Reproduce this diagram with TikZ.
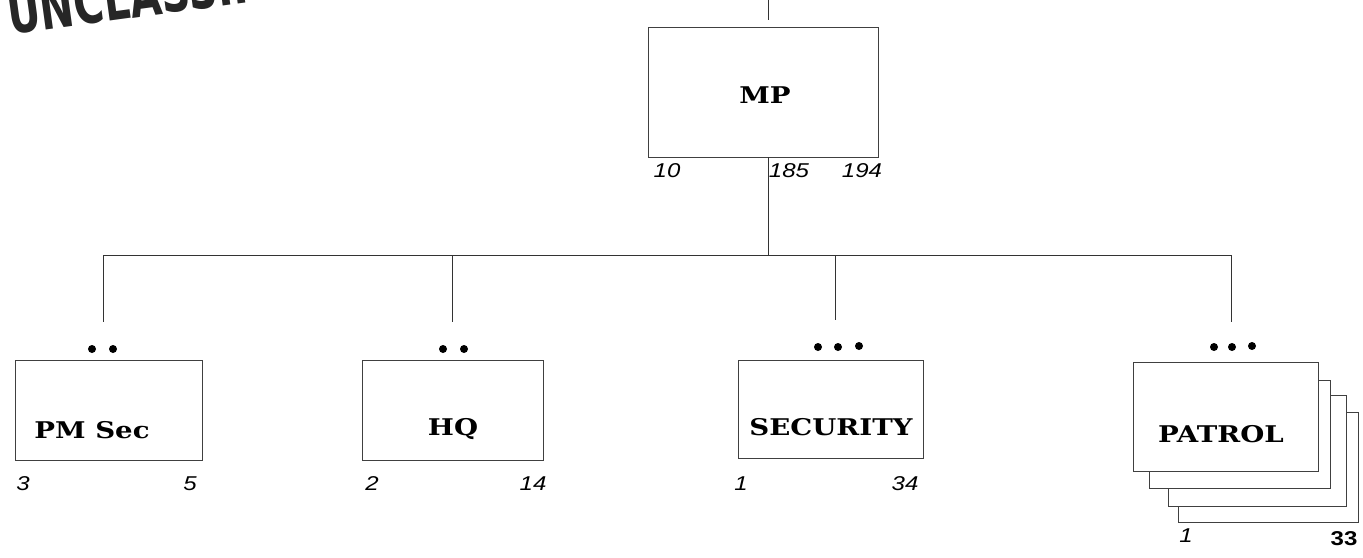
\documentclass[tikz,border=0pt]{standalone}
\usepackage{fontspec}
\newfontfamily\labfont[FakeStretch=1.2]{DejaVu Serif}
\newfontfamily\numfont[FakeStretch=1.2]{Liberation Sans}
\newfontfamily\stampfont{DejaVu Sans}
\begin{document}
\begin{tikzpicture}[x=1pt,y=-1pt,
  ln/.style={draw=black!80, line width=1pt},
  unitbox/.style={draw=black!75, line width=1pt, fill=white, inner sep=0pt, anchor=north west},
  lab/.style={font=\labfont\bfseries\fontsize{23}{23}\selectfont, anchor=base, inner sep=0pt},
  num/.style={font=\numfont\itshape\fontsize{20}{20}\selectfont, anchor=base, inner sep=0pt},
  numup/.style={font=\numfont\bfseries\fontsize{20}{20}\selectfont, anchor=base, inner sep=0pt},
  dot/.style={circle, fill=black, inner sep=0pt, minimum size=8pt}]
\useasboundingbox (0,0) rectangle (1363,557);
\clip (0,0) rectangle (1363,557);

% stamp (cut off at the top edge, as in the scan)
\node[font=\stampfont\bfseries\fontsize{60}{60}\selectfont, text=black!85, rotate=7.8, xscale=0.68, anchor=base west, inner sep=0pt] (stamp) at (10,35) {UNCLASSIFIED};

% MP box
\node[unitbox, minimum width=230pt, minimum height=130pt] (mp) at (648,27) {};
\node[lab] (mplab) at (765,103) {MP};
\node[num] (mpa) at (667,177) {10};
\node[num] (mpb) at (789,177) {185};
\node[num] (mpc) at (862,177) {194};

% top connector
\coordinate (topa) at (768,0);
\coordinate (topb) at (768,20);
\draw[ln] (topa) -- (topb);

% bus
\coordinate (mpdown) at (768,157);
\coordinate (busmp) at (768,255);
\coordinate (b1) at (103,255);
\coordinate (b2) at (452,255);
\coordinate (b3) at (835,255);
\coordinate (b4) at (1231,255);
\coordinate (d1) at (103,322);
\coordinate (d2) at (452,322);
\coordinate (d3) at (835,320);
\coordinate (d4) at (1231,322);
\draw[ln] (mpdown) -- (busmp);
\draw[ln] (b1) -- (b4);
\draw[ln] (b1) -- (d1);
\draw[ln] (b2) -- (d2);
\draw[ln] (b3) -- (d3);
\draw[ln] (b4) -- (d4);

% PM Sec
\node[unitbox, minimum width=187pt, minimum height=100pt] (pm) at (15,360) {};
\node[lab] (pmlab) at (92,438) {PM Sec};
\node[dot] (pmd1) at (92,349) {};
\node[dot] (pmd2) at (113,349) {};
\node[num] (pma) at (23,490) {3};
\node[num] (pmb) at (190,490) {5};

% HQ
\node[unitbox, minimum width=181pt, minimum height=100pt] (hq) at (362,360) {};
\node[lab] (hqlab) at (453,435) {HQ};
\node[dot] (hqd1) at (443,349) {};
\node[dot] (hqd2) at (464,349) {};
\node[num] (hqa) at (372,490) {2};
\node[num] (hqb) at (533,490) {14};

% SECURITY
\node[unitbox, minimum width=185pt, minimum height=98pt] (sec) at (738,360) {};
\node[lab] (seclab) at (831,435) {SECURITY};
\node[dot] (secd1) at (818,347) {};
\node[dot] (secd2) at (838,347) {};
\node[dot] (secd3) at (859,346) {};
\node[num] (seca) at (741,490) {1};
\node[num] (secb) at (905,490) {34};

% PATROL (stacked)
\node[unitbox, minimum width=180pt, minimum height=110pt] (pat4) at (1178,412) {};
\node[unitbox, minimum width=178pt, minimum height=111pt] (pat3) at (1168,395) {};
\node[unitbox, minimum width=181pt, minimum height=108pt] (pat2) at (1149,380) {};
\node[unitbox, minimum width=185pt, minimum height=109pt] (pat) at (1133,362) {};
\node[lab] (patlab) at (1221,442) {PATROL};
\node[dot] (patd1) at (1214,347) {};
\node[dot] (patd2) at (1232,347) {};
\node[dot] (patd3) at (1252,346) {};
\node[num] (pata) at (1186,542) {1};
\node[numup] (patb) at (1344,545) {33};
\end{tikzpicture}
\end{document}
